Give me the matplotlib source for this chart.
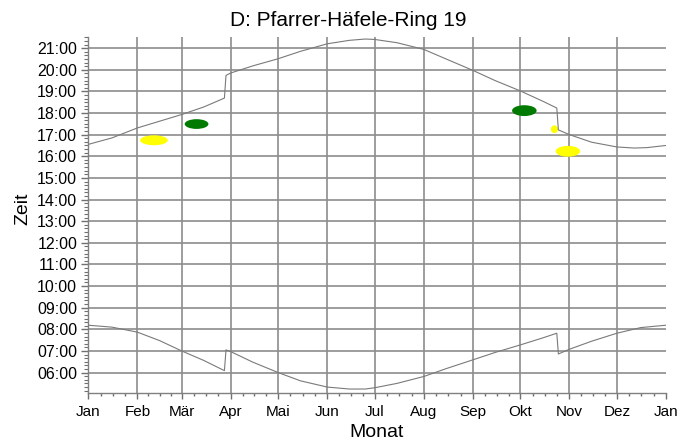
import matplotlib
matplotlib.use("Agg")
import matplotlib.pyplot as plt
from matplotlib.patches import Ellipse

plt.rcParams['font.family'] = ['Liberation Sans', 'DejaVu Sans']

# month starts (day of year) and labels
month_days = [0, 31, 59, 90, 120, 151, 181, 212, 243, 273, 304, 334, 365]
month_labels = ['Jan', 'Feb', 'Mär', 'Apr', 'Mai', 'Jun', 'Jul', 'Aug',
                'Sep', 'Okt', 'Nov', 'Dez', 'Jan']

# sunset / sunrise in local time (hours), DST jumps at day 87 and 297
sunset_days = [0, 15, 31, 45, 59, 73, 86, 87, 90, 104, 120, 134, 151, 165,
               175, 181, 195, 212, 226, 243, 257, 273, 287, 296, 297, 304,
               318, 334, 345, 353, 365]
sunset_hours = [16.55, 16.85, 17.31, 17.62, 17.93, 18.28, 18.69, 19.74, 19.85,
                20.18, 20.51, 20.85, 21.20, 21.36, 21.42, 21.40, 21.25, 20.94,
                20.50, 19.97, 19.50, 19.02, 18.55, 18.23, 17.22, 17.00, 16.65,
                16.43, 16.38, 16.40, 16.50]

sunrise_days = [0, 15, 31, 45, 59, 73, 86, 87, 90, 104, 120, 134, 151, 165,
                175, 181, 195, 212, 226, 243, 257, 273, 287, 296, 297, 304,
                318, 334, 349, 365]
sunrise_hours = [8.19, 8.10, 7.87, 7.48, 7.00, 6.56, 6.09, 7.05, 6.97, 6.48,
                 6.00, 5.62, 5.33, 5.24, 5.24, 5.30, 5.50, 5.82, 6.18, 6.59,
                 6.93, 7.28, 7.60, 7.82, 6.86, 7.08, 7.45, 7.82, 8.08, 8.19]

# shadow blobs: centre day, centre hour, width (days), height (hours), colour
blob_day = [41.5, 68.4, 275.5, 294.5, 303.0]
blob_hour = [16.74, 17.49, 18.11, 17.25, 16.23]
blob_width = [17.5, 15.0, 15.5, 4.5, 15.5]
blob_height = [0.46, 0.45, 0.50, 0.36, 0.50]
blob_color = ['#ffff00', '#007a00', '#007a00', '#ffff00', '#ffff00']

grid_col = '#8c8c8c'

fig = plt.figure(figsize=(6.96, 4.41), dpi=100)
ax = fig.add_axes([88.3 / 696, 48.3 / 441, (666 - 88.3) / 696, (392.7 - 37.3) / 441])

ax.set_xlim(0, 365)
ax.set_ylim(5.07, 21.48)

for d in month_days[1:-1]:
    ax.axvline(d, color=grid_col, lw=1.2, zorder=1)
for h in range(6, 22):
    ax.axhline(h, color=grid_col, lw=1.2, zorder=1)

ax.plot(sunset_days, sunset_hours, color='#7a7a7a', lw=0.8, zorder=3)
ax.plot(sunrise_days, sunrise_hours, color='#7a7a7a', lw=0.8, zorder=3)

for d, h, w, ht, c in zip(blob_day, blob_hour, blob_width, blob_height, blob_color):
    ax.add_patch(Ellipse((d, h), w, ht, facecolor=c, edgecolor='none', zorder=2))

ax.set_xticks(month_days)
ax.set_xticklabels(month_labels)
minor_x = []
for a, b in zip(month_days[:-1], month_days[1:]):
    minor_x += [a + (b - a) * k / 4 for k in (1, 2, 3)]
ax.set_xticks(minor_x, minor=True)

ax.set_yticks(range(6, 22))
ax.set_yticklabels(['%02d:00' % h for h in range(6, 22)])
ax.set_yticks([h / 6 for h in range(31, 130)], minor=True)

for s in ['top', 'right']:
    ax.spines[s].set_visible(False)
for s in ['left', 'bottom']:
    ax.spines[s].set_color('#808080')
    ax.spines[s].set_linewidth(1.0)

ax.tick_params(axis='x', which='major', length=4, width=1, color='#707070',
               labelsize=11, pad=5)
ax.tick_params(axis='x', which='minor', length=2.5, width=1, color='#707070')
ax.tick_params(axis='y', which='major', length=5, width=1, color='#707070',
               labelsize=11.5, pad=3)
ax.tick_params(axis='y', which='minor', length=2.8, width=0.8, color='#707070')

fig.text(0.5, 1 - 26 / 441, 'D: Pfarrer-Häfele-Ring 19', ha='center',
         va='baseline', fontsize=15)
fig.text(376.7 / 696, 1 - 437.3 / 441, 'Monat', ha='center', va='baseline',
         fontsize=14)
fig.text(23 / 696, 1 - 209 / 441, 'Zeit', ha='center', va='center',
         rotation=90, fontsize=14)

fig.savefig('out.png', dpi=100)
